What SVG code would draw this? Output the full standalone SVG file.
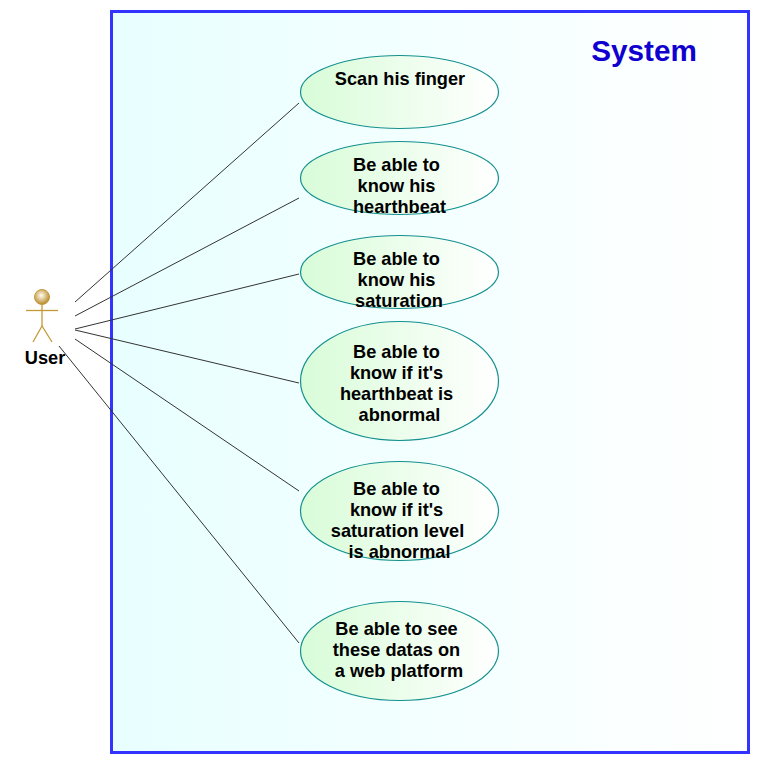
<svg xmlns="http://www.w3.org/2000/svg" width="760" height="764" viewBox="0 0 760 764">
<defs>
<linearGradient id="sys" x1="0" y1="0" x2="1" y2="0"><stop offset="0" stop-color="#e8ffff"/><stop offset="1" stop-color="#ffffff"/></linearGradient>
<linearGradient id="uc" x1="0" y1="0" x2="1" y2="0"><stop offset="0" stop-color="#d8fcd8"/><stop offset="1" stop-color="#ffffff"/></linearGradient>
<radialGradient id="head" cx="0.45" cy="0.4" r="0.6"><stop offset="0" stop-color="#fffdf0"/><stop offset="1" stop-color="#b88a2a"/></radialGradient>
</defs>
<style>
.uc{fill:url(#uc);stroke:#149090;stroke-width:1.2}
.t{font-family:"Liberation Sans",Arial,sans-serif;font-weight:bold;font-size:18.200px;fill:#000;text-anchor:middle}
.c{stroke:#333;stroke-width:1;fill:none}
.a{stroke:#c49a38;stroke-width:1.3;fill:none}
</style>
<g id="system">
<rect x="111.500" y="11.500" width="637" height="741" fill="url(#sys)" stroke="#3333ff" stroke-width="3"/>
<text x="644" y="60.500" style="font-family:'Liberation Sans',Arial,sans-serif;font-weight:bold;font-size:29.700px;fill:#1000d0;text-anchor:middle">System</text>
</g>
<g id="connectors">
<line class="c" x1="75" y1="302" x2="299" y2="103"/>
<line class="c" x1="75" y1="316" x2="299" y2="198"/>
<line class="c" x1="75" y1="329" x2="299" y2="274"/>
<line class="c" x1="75" y1="330" x2="299" y2="383"/>
<line class="c" x1="75" y1="339" x2="299" y2="491"/>
<line class="c" x1="59" y1="346" x2="299" y2="643"/>
</g>
<g id="actor-user">
<circle cx="42" cy="297" r="7.500" fill="url(#head)" stroke="#c49a38" stroke-width="1"/>
<line class="a" x1="42" y1="305" x2="42" y2="326"/>
<line class="a" x1="26" y1="310.500" x2="58" y2="310.500"/>
<path class="a" d="M33 342 L42 326 L52 342"/>
<text class="t" x="45" y="364">User</text>
</g>
<g id="uc1"><ellipse class="uc" cx="399.500" cy="92" rx="99" ry="36.500"/><text class="t" x="400" y="85">Scan his finger</text></g>
<g id="uc2"><ellipse class="uc" cx="399.500" cy="178" rx="99" ry="36.500"/><text class="t" x="396.500" y="171">Be able to</text><text class="t" x="396.500" y="192">know his</text><text class="t" x="399.500" y="213">hearthbeat</text></g>
<g id="uc3"><ellipse class="uc" cx="399.500" cy="272" rx="99" ry="36.500"/><text class="t" x="396.500" y="265">Be able to</text><text class="t" x="396.500" y="286">know his</text><text class="t" x="399" y="307">saturation</text></g>
<g id="uc4"><ellipse class="uc" cx="399.500" cy="381" rx="99" ry="59.500"/><text class="t" x="396.500" y="358">Be able to</text><text class="t" x="396.500" y="379">know if it's</text><text class="t" x="396.500" y="400">hearthbeat is</text><text class="t" x="399.500" y="421">abnormal</text></g>
<g id="uc5"><ellipse class="uc" cx="399.500" cy="511" rx="99" ry="49.500"/><text class="t" x="396.500" y="495">Be able to</text><text class="t" x="396.500" y="516">know if it's</text><text class="t" x="397.500" y="537">saturation level</text><text class="t" x="399.500" y="558">is abnormal</text></g>
<g id="uc6"><ellipse class="uc" cx="399.500" cy="651" rx="99" ry="49.500"/><text class="t" x="396.500" y="635">Be able to see</text><text class="t" x="396.500" y="656">these datas on</text><text class="t" x="399" y="677">a web platform</text></g>
</svg>
